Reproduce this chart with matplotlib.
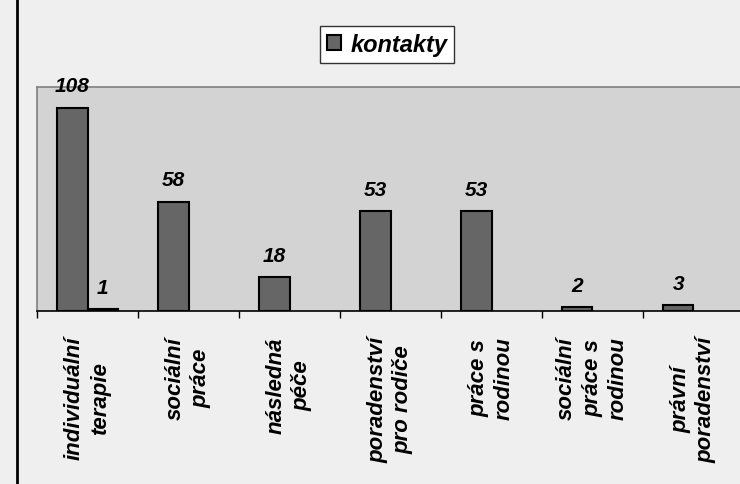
import matplotlib.pyplot as plt
import numpy as np
from matplotlib.lines import Line2D

categories = ['individuální\nterapie', 'sociální\npráce', 'následná\npéče',
              'poradenství\npro rodiče', 'práce s\nrodinou', 'sociální\npráce s\nrodinou',
              'právní\nporadenství']
kontakty = [108, 58, 18, 53, 53, 2, 3]
druha = [1, 0, 0, 0, 0, 0, 0]

plt.rcParams['font.family'] = ['Liberation Sans', 'DejaVu Sans']

fig = plt.figure(figsize=(7.4, 4.85), dpi=100, facecolor='#efefef')
ax = fig.add_axes([37 / 740, 1 - 312 / 485, 707 / 740, 224 / 485])
ax.set_facecolor('#d3d3d3')

x = np.arange(len(categories))
w = 0.3
b1 = ax.bar(x - w / 2, kontakty, w, color='#666666', edgecolor='black', linewidth=1.5,
            label='kontakty')
# druha rada - jen nenulove hodnoty
d = np.array(druha)
nz = d > 0
ax.bar(x[nz] + w / 2, d[nz], w, color='black', edgecolor='black', linewidth=1.5)

lab = dict(fontsize=15, fontweight='bold', fontstyle='italic', ha='center', va='bottom')
for xi, v in zip(x - w / 2, kontakty):
    ax.annotate(str(v), (xi, v), xytext=(0, 9), textcoords='offset points',
                annotation_clip=False, **lab)
for xi, v in zip(x[nz] + w / 2, d[nz]):
    ax.annotate(str(v), (xi, v), xytext=(0, 9), textcoords='offset points',
                annotation_clip=False, **lab)

ax.set_xlim(-0.5, len(categories) - 0.5)
ax.set_ylim(0, 119)
ax.set_yticks([])
ax.set_xticks(x)
ax.set_xticklabels(categories, rotation=90, fontsize=16, fontweight='bold',
                   fontstyle='italic', multialignment='center', linespacing=1.3)
ax.set_xticks(np.arange(-0.5, len(categories)), minor=True)
ax.tick_params(axis='x', which='major', length=0, pad=18)
ax.tick_params(axis='x', which='minor', length=5, width=1, direction='out')

for s in ['top', 'left', 'right']:
    ax.spines[s].set_color('#808080')
    ax.spines[s].set_linewidth(1.2)
ax.spines['bottom'].set_color('black')
ax.spines['bottom'].set_linewidth(1.2)

leg = fig.legend(handles=[b1], loc='center', bbox_to_anchor=(387 / 740, 1 - 45.5 / 485),
                 prop=dict(family='Liberation Sans', size=17, weight='bold', style='italic'),
                 fancybox=False, framealpha=1, facecolor='white', edgecolor='#333333',
                 handlelength=0.6, handleheight=0.6, handletextpad=0.4, borderpad=0.3)
leg.get_frame().set_linewidth(1)

fig.add_artist(Line2D([17 / 740, 17 / 740], [0, 1], color='black', linewidth=2,
                      transform=fig.transFigure))

fig.savefig('out.png', dpi=100, facecolor=fig.get_facecolor())
